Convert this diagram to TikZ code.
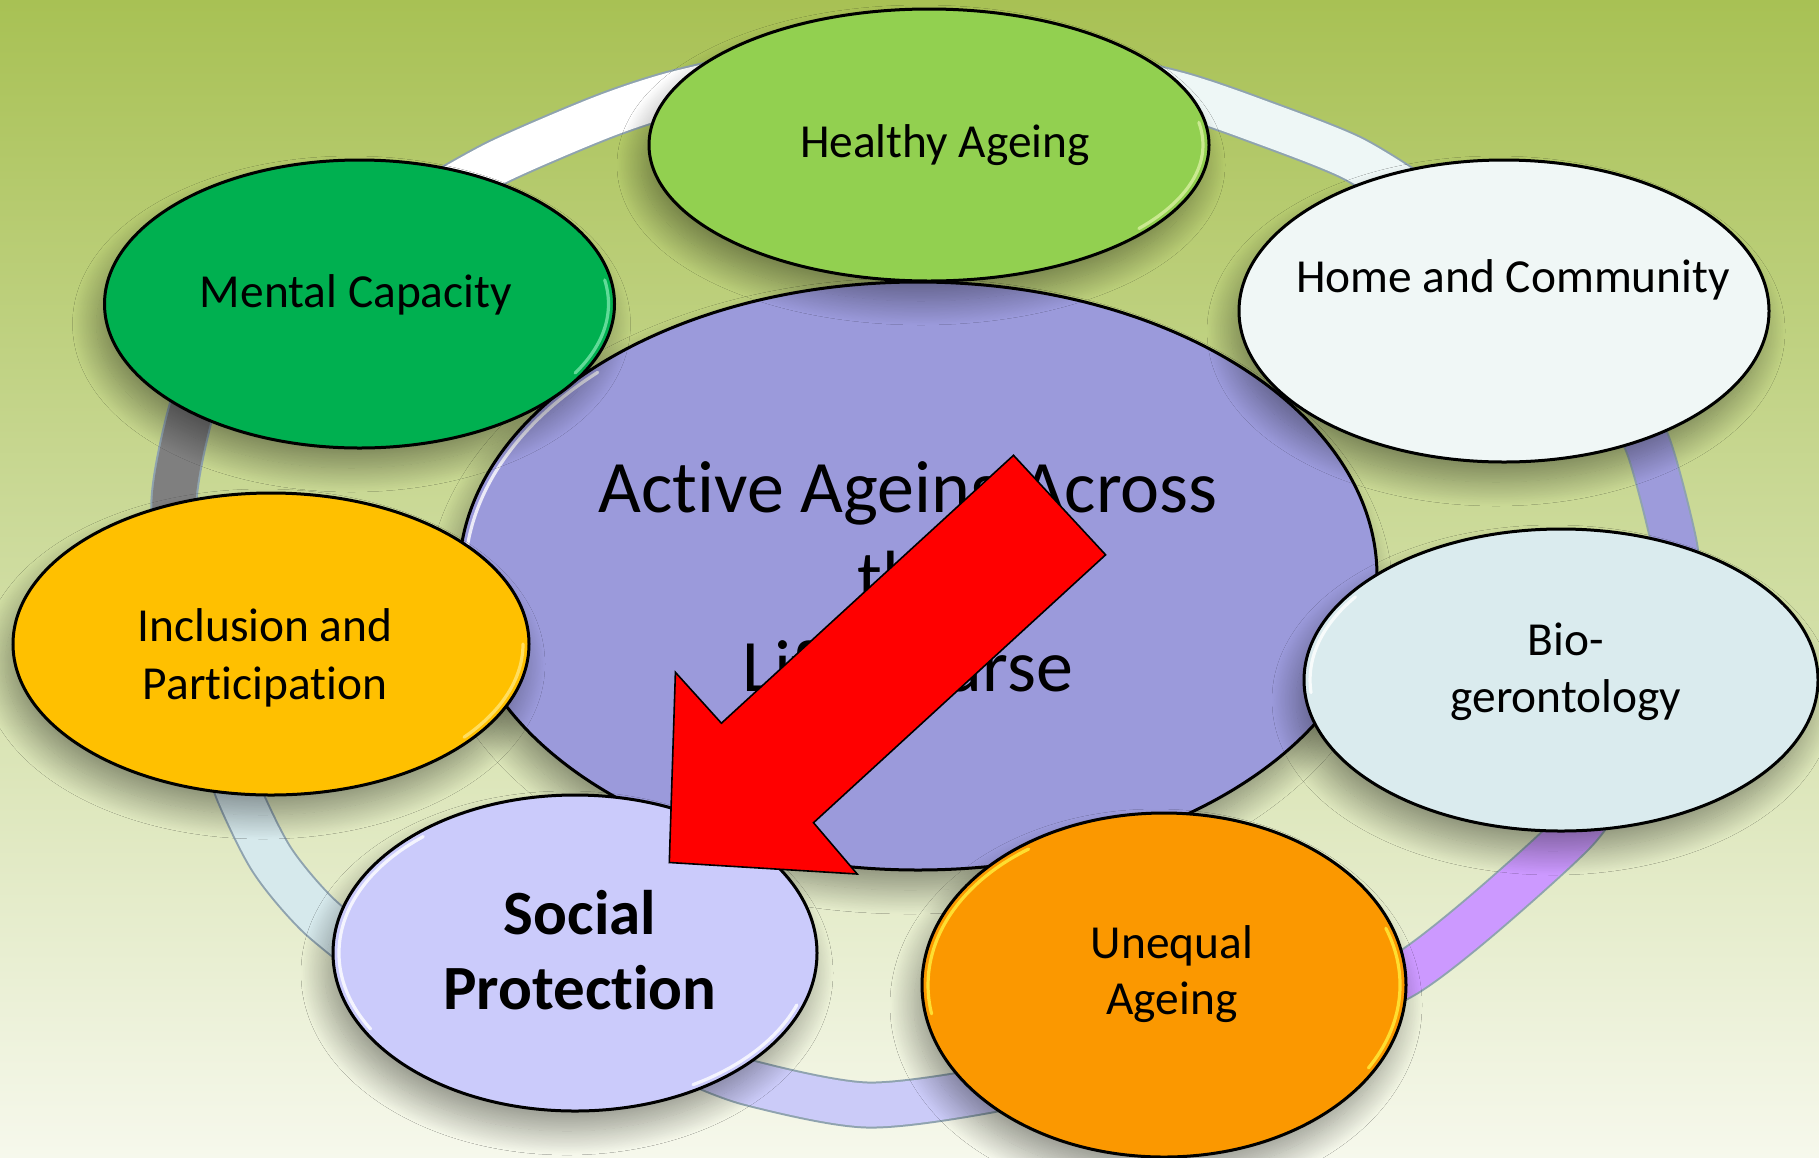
\documentclass[tikz,border=0pt]{standalone}
\usepackage{fontspec}
\setmainfont{Carlito}[Ligatures={TeX,NoCommon}]
\usetikzlibrary{shapes.geometric,shadows.blur}

\definecolor{bgtop}{RGB}{168,193,84}
\definecolor{bgmid}{RGB}{202,215,148}
\definecolor{bgbot}{RGB}{246,248,236}
\definecolor{ringline}{RGB}{143,163,175}
\definecolor{rtl}{RGB}{255,255,255}
\definecolor{rtr}{RGB}{238,247,246}
\definecolor{rr}{RGB}{157,155,219}
\definecolor{rbr}{RGB}{204,153,255}
\definecolor{rb}{RGB}{203,203,248}
\definecolor{rbl}{RGB}{214,233,236}
\definecolor{rl}{RGB}{127,127,127}
\definecolor{cHealthy}{RGB}{146,208,80}
\definecolor{cHome}{RGB}{240,247,246}
\definecolor{cBio}{RGB}{218,235,238}
\definecolor{cUnequal}{RGB}{251,152,0}
\definecolor{cSocial}{RGB}{203,203,251}
\definecolor{cIncl}{RGB}{255,192,0}
\definecolor{cMental}{RGB}{0,176,80}
\definecolor{cCenter}{RGB}{155,154,219}
\definecolor{cArrow}{RGB}{255,0,0}

\newcommand\ringband[2]{%
  \draw[line width=23.5pt, ringline] plot[smooth] coordinates {#2};
  \draw[line width=21.5pt, #1] plot[smooth] coordinates {#2};}

\tikzset{
  bub/.style={ellipse, draw=black, line width=1.5pt, inner sep=0pt,
    blur shadow={shadow xshift=-4pt, shadow yshift=-10pt, shadow blur radius=12pt,
      shadow opacity=38, shadow blur steps=30}},
  lbl/.style={font=\fontsize{23.7pt}{28pt}\selectfont, inner sep=0pt, anchor=base},
  bigl/.style={font=\fontsize{37pt}{44pt}\selectfont, inner sep=0pt, anchor=base},
  boldl/.style={font=\fontsize{31.5pt}{37pt}\selectfont\bfseries, inner sep=0pt, anchor=base},
  hilite/.style={line width=1.6pt, opacity=0.8, line cap=round},
  arrowshape/.style={fill=cArrow, draw=black, line width=0.8pt, line join=miter}
}

\begin{document}
\begin{tikzpicture}[x=0.5pt,y=-0.5pt]
\useasboundingbox (0,0) rectangle (1819,1157);
\clip (0,0) rectangle (1819,1157);
\shade[top color=bgtop, middle color=bgmid, bottom color=bgbot] (0,0) rectangle (1819,1157);

% ring segments
\ringband{rtl}{(740,78) (668,95) (600,118) (500,161) (430,200)}
\ringband{rtr}{(1110,78) (1182,95) (1250,118) (1350,157) (1420,200)}
\ringband{rr}{(1620,390) (1649,448) (1674,543) (1680,600)}
\ringband{rbr}{(1610,780) (1575,831) (1480,917) (1406,974) (1330,1010)}
\ringband{rb}{(1050,1072) (990,1090) (867,1105) (750,1083) (690,1060)}
\ringband{rbl}{(380,965) (318,915) (272,860) (239,794) (225,750)}
\ringband{rl}{(180,590) (174,500) (190,415) (215,345)}

% centre
\node[bub, fill=cCenter, minimum width=459pt, minimum height=294pt] (center) at (918,576) {};
\draw[hilite, white] (466.7,550.9) arc[start angle=185, end angle=225, x radius=453, y radius=288];
\node[bigl] (c1) at (908,512) {Active Ageing Across};
\node[bigl] (c2) at (908,602) {the};
\node[bigl] (c3) at (908,691) {Life Course};

% outer bubbles
\node[bub, fill=cHealthy, minimum width=280pt, minimum height=136pt] (healthy) at (929,145) {};
\node[bub, fill=cHome, minimum width=265pt, minimum height=151pt] (home) at (1504,311) {};
\node[bub, fill=cBio, minimum width=257pt, minimum height=151pt] (bio) at (1561,680) {};
\node[bub, fill=cIncl, minimum width=258pt, minimum height=151pt] (incl) at (271,644) {};
\node[bub, fill=cMental, minimum width=255pt, minimum height=144pt] (mental) at (359.5,304) {};
\node[bub, fill=cSocial, minimum width=242pt, minimum height=158pt] (social) at (575,953) {};
\node[bub, fill=cUnequal, minimum width=242pt, minimum height=172pt] (unequal) at (1164,985) {};

% bevel highlights
\draw[hilite, color={rgb,255:red,216;green,240;blue,160}] (1198.8,122.4) arc[start angle=-10, end angle=40, x radius=274, y radius=130];
\draw[hilite, color={rgb,255:red,120;green,230;blue,170}] (604.7,280) arc[start angle=-10, end angle=30, x radius=249, y radius=138];
\draw[hilite, color={rgb,255:red,255;green,230;blue,120}] (523,644) arc[start angle=0, end angle=40, x radius=252, y radius=145];
\draw[hilite, white] (1311,692.6) arc[start angle=175, end angle=215, x radius=251, y radius=145];
\draw[hilite, white] (370.6,1029) arc[start angle=150, end angle=230, x radius=236, y radius=152];
\draw[hilite, white] (796.8,1005) arc[start angle=20, end angle=60, x radius=236, y radius=152];
\draw[hilite, color={rgb,255:red,255;green,240;blue,60}] (931.6,1013.8) arc[start angle=170, end angle=235, x radius=236, y radius=166];
\draw[hilite, color={rgb,255:red,255;green,240;blue,60}] (1385.8,928.2) arc[start angle=-20, end angle=30, x radius=236, y radius=166];

\node[lbl] (thealthy) at (945,157) {Healthy Ageing};
\node[lbl] (thome) at (1513,292) {Home and Community};
\node[lbl] (tbio1) at (1566,655) {Bio-};
\node[lbl] (tbio2) at (1566,712) {gerontology};
\node[lbl] (tincl1) at (265,641) {Inclusion and};
\node[lbl] (tincl2) at (265,699) {Participation};
\node[lbl] (tmental) at (356,307) {Mental Capacity};
\node[lbl] (tuneq1) at (1172,958) {Unequal};
\node[lbl] (tuneq2) at (1172,1014) {Ageing};
\node[boldl] (tsoc1) at (580,934) {Social};
\node[boldl] (tsoc2) at (580,1009) {Protection};

% red arrow
\coordinate (a1) at (1013.5,455.3);
\coordinate (a2) at (1105.6,554.8);
\coordinate (a3) at (813.5,822.7);
\coordinate (a4) at (857.2,874);
\coordinate (a5) at (669.3,862.5);
\coordinate (a6) at (675.4,672.3);
\coordinate (a7) at (721.4,723.2);
\draw[arrowshape] (a1) -- (a2) -- (a3) -- (a4) -- (a5) -- (a6) -- (a7) -- cycle;
\end{tikzpicture}
\end{document}
